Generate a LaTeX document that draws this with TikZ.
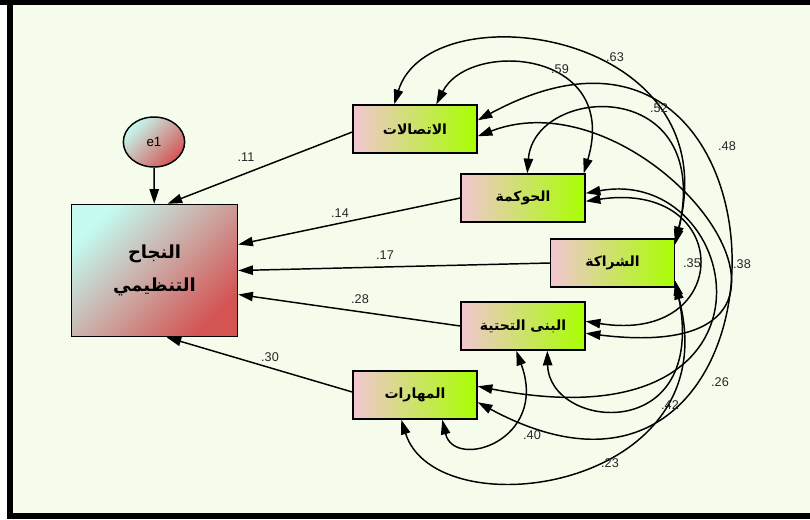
\documentclass[tikz,border=0pt]{standalone}
\usepackage{fontspec}
\setmainfont{Liberation Sans}
\newfontfamily\arabicfont[Script=Arabic]{DejaVu Sans}
\TeXXeTstate=1
\usepackage{tikz}
\usetikzlibrary{positioning, arrows.meta, shapes.geometric}
\definecolor{bgcol}{RGB}{245,252,236}
\definecolor{pinkcol}{RGB}{242,198,210}
\definecolor{limecol}{RGB}{168,255,0}
\definecolor{cyancol}{RGB}{196,250,240}
\definecolor{redcol}{RGB}{212,84,84}

\begin{document}
\begin{tikzpicture}[x=0.75pt, y=-0.75pt,
  factor/.style={draw, line width=1.1pt, minimum width=93pt, minimum height=36pt, inner sep=0pt,
    left color=pinkcol, right color=limecol, font=\arabicfont\bfseries\fontsize{10.5}{12}\selectfont},
  outcome/.style={draw, line width=1.1pt, minimum width=124.5pt, minimum height=99pt, inner sep=0pt,
    left color=cyancol, right color=redcol, shading angle=45, align=center,
    font=\arabicfont\bfseries\fontsize{13.5}{25}\selectfont},
  errvar/.style={draw, ellipse, line width=1.1pt, minimum width=46pt, minimum height=37.5pt, inner sep=0pt,
    left color=cyancol, right color=redcol, shading angle=45, font=\fontsize{10}{12}\selectfont},
  coef/.style={font=\fontsize{9.5}{10}\selectfont, text=black!85, inner sep=0pt},
  regr/.style={-{Triangle[length=11pt,width=7pt]}, line width=1.1pt},
  cov/.style={{Triangle[length=11pt,width=7pt]}-{Triangle[length=11pt,width=7pt]}, line width=1.1pt}]

% frame and background
\useasboundingbox (0,0) rectangle (810,519);
\fill[white] (0,0) rectangle (810,519);
\fill[bgcol] (13,5) rectangle (810,513);
\fill[black] (0,0) rectangle (810,5);
\fill[black] (7,0) rectangle (13,519);
\fill[black] (7,513) rectangle (810,519);

% variables
\node[outcome] (F) at (154.5,270.5) {\beginR النجاح\endR\\\beginR التنظيمي\endR};
\node[errvar] (err) at (154,142) {e1};
\node[factor] (A) at (415,129) {\beginR الاتصالات\endR};
\node[factor] (B) at (523,198) {\beginR الحوكمة\endR};
\node[factor] (C) at (612.5,263) {\beginR الشراكة\endR};
\node[factor] (D) at (523,326) {\beginR البنى التحتية\endR};
\node[factor] (E) at (415,395) {\beginR المهارات\endR};

% regression paths
\draw[regr] (err) -- (F);
\draw[regr] ([shift={(0,3)}]A.west) -- ([shift={(13,0)}]F.north);
\draw[regr] (B.west) -- ([shift={(0,-26)}]F.east);
\draw[regr] (C.west) -- (F.east);
\draw[regr] (D.west) -- ([shift={(0,24)}]F.east);
\draw[regr] ([shift={(0,-3)}]E.west) -- ([shift={(12,0)}]F.south);

% covariances
\draw[cov] ([shift={(42,0)}]A.north west) .. controls +(35,-115) and +(55,-212) .. ([shift={(0,3)}]C.north east);
\draw[cov] ([shift={(84,0)}]A.north west) .. controls +(33,-65) and +(37,-124) .. ([shift={(-2,0)}]B.north east);
\draw[cov] ([shift={(67,0)}]B.north west) .. controls +(7,-89) and +(40,-170) .. ([shift={(0,6)}]C.north east);
\draw[cov] ([shift={(0,16)}]A.north east) .. controls +(335,-181) and +(335,181) .. ([shift={(0,32)}]E.north east);
\draw[cov] ([shift={(0,32)}]A.north east) .. controls +(173,-67) and +(294,36) .. ([shift={(0,32)}]D.north east);
\draw[cov] ([shift={(0,28)}]B.north east) .. controls +(149,-22) and +(149,24) .. ([shift={(0,20)}]D.north east);
\draw[cov] ([shift={(0,20)}]B.north east) .. controls +(159,-29) and +(323,63) .. ([shift={(0,16)}]E.north east);
\draw[cov] ([shift={(90,0)}]E.south west) .. controls +(12,51) and +(33,90) .. ([shift={(56,0)}]D.south west);
\draw[cov] ([shift={(49,0)}]E.south west) .. controls +(35,111) and +(55,206) .. ([shift={(0,-3)}]C.south east);
\draw[cov] ([shift={(87,0)}]D.south west) .. controls +(2,80) and +(35,165) .. ([shift={(0,-7)}]C.south east);

% coefficients
\node[coef] (c11) at (246,157) {.11};
\node[coef] (c14) at (340,213) {.14};
\node[coef] (c17) at (385,255) {.17};
\node[coef] (c28) at (360,299) {.28};
\node[coef] (c30) at (270,357) {.30};
\node[coef] (c63) at (615,57) {.63};
\node[coef] (c59) at (560,69) {.59};
\node[coef] (c52) at (659,108) {.52};
\node[coef] (c48) at (727,146) {.48};
\node[coef] (c35) at (692,263) {.35};
\node[coef] (c38) at (742,264) {.38};
\node[coef] (c26) at (720,382) {.26};
\node[coef] (c42) at (670,405) {.42};
\node[coef] (c40) at (532,435) {.40};
\node[coef] (c23) at (610,463) {.23};
\end{tikzpicture}
\end{document}
